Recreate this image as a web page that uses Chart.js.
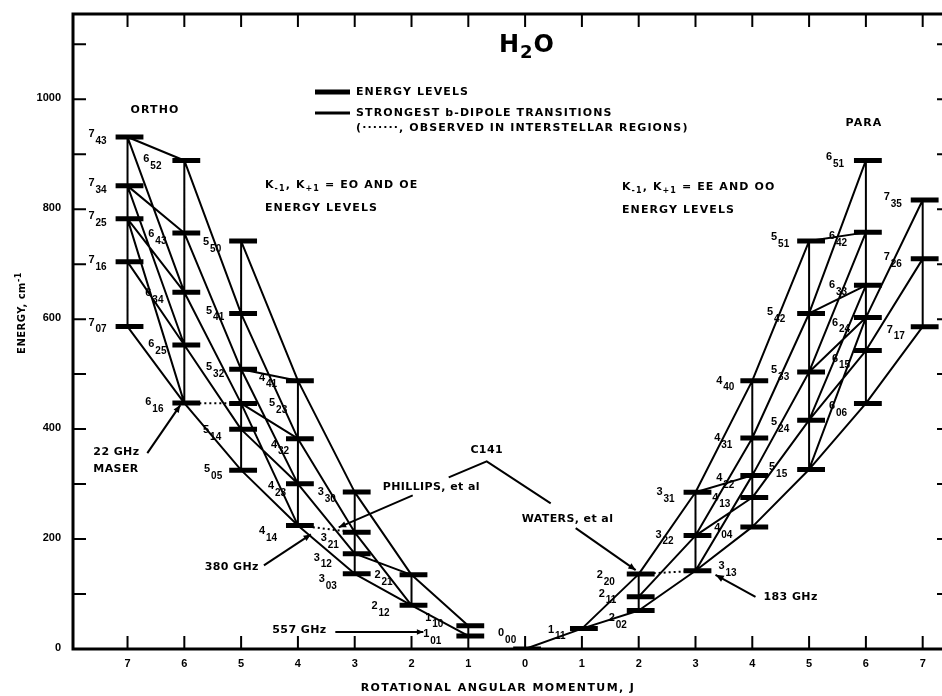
<!DOCTYPE html>
<html>
<head>
<meta charset="utf-8">
<script src="https://cdn.jsdelivr.net/npm/chart.js@4.4.1/dist/chart.umd.min.js"></script>
<style>
  html, body { margin: 0; padding: 0; background: #fff; }
  canvas { display: block; }
</style>
</head>
<body>
<canvas id="chart" width="942" height="696"></canvas>
<script>
// H2O rotational energy levels, cm-1 (name = J_KaKc). Ortho on the left, para on the right.
const orthoLevels = ['7_43','7_34','7_25','7_16','7_07',
                     '6_52','6_43','6_34','6_25','6_16',
                     '5_50','5_41','5_32','5_23','5_14','5_05',
                     '4_41','4_32','4_23','4_14',
                     '3_30','3_21','3_12','3_03',
                     '2_21','2_12',
                     '1_10','1_01'];
const orthoEnergy = [931.2, 842.4, 782.4, 704.2, 586.5,
                     888.6, 756.7, 649.0, 552.9, 447.3,
                     742.1, 610.1, 508.8, 446.7, 399.5, 325.3,
                     488.1, 382.5, 300.4, 224.8,
                     285.4, 212.2, 173.4, 136.8,
                     134.9, 79.5,
                     42.4, 23.8];

const paraLevels = ['0_00',
                    '1_11',
                    '2_20','2_11','2_02',
                    '3_31','3_22','3_13',
                    '4_40','4_31','4_22','4_13','4_04',
                    '5_51','5_42','5_33','5_24','5_15',
                    '6_51','6_42','6_33','6_24','6_15','6_06',
                    '7_35','7_26','7_17'];
const paraEnergy = [0,
                    37.1,
                    136.2, 95.2, 70.1,
                    285.2, 206.3, 142.3,
                    488.1, 383.8, 315.8, 275.5, 222.1,
                    742.1, 610.3, 504.0, 416.2, 326.6,
                    888.6, 757.8, 661.5, 602.8, 542.9, 446.7,
                    816.7, 709.6, 586.2];

// strongest b-dipole transitions
const transitions = [
  ['7_43','7_34'],['7_34','7_25'],['7_25','7_16'],['7_16','7_07'],
  ['6_52','6_43'],['6_43','6_34'],['6_34','6_25'],['6_25','6_16'],
  ['5_50','5_41'],['5_41','5_32'],['5_32','5_23'],['5_23','5_14'],['5_14','5_05'],
  ['4_41','4_32'],['4_32','4_23'],['4_23','4_14'],
  ['3_30','3_21'],['3_21','3_12'],['3_12','3_03'],
  ['2_21','2_12'],['1_10','1_01'],
  ['7_43','6_52'],['7_43','6_34'],['7_34','6_43'],['7_34','6_25'],['7_25','6_34'],['7_25','6_16'],['7_16','6_25'],['7_07','6_16'],
  ['6_52','5_41'],['6_43','5_32'],['6_34','5_23'],['6_25','5_14'],['6_16','5_05'],
  ['5_50','4_41'],['5_41','4_32'],['5_32','4_41'],['5_32','4_23'],['5_23','4_32'],['5_23','4_14'],['5_14','4_23'],['5_05','4_14'],
  ['4_41','3_30'],['4_32','3_21'],['4_23','3_12'],['4_14','3_03'],
  ['3_30','2_21'],['3_21','2_12'],['3_12','2_21'],['3_03','2_12'],
  ['2_21','1_10'],['2_12','1_01'],
  ['2_20','2_11'],['2_11','2_02'],['3_31','3_22'],['3_22','3_13'],
  ['4_40','4_31'],['4_31','4_22'],['4_22','4_13'],['4_13','4_04'],
  ['5_51','5_42'],['5_42','5_33'],['5_33','5_24'],['5_24','5_15'],
  ['6_51','6_42'],['6_42','6_33'],['6_33','6_24'],['6_24','6_15'],['6_15','6_06'],
  ['7_35','7_26'],['7_26','7_17'],
  ['0_00','1_11'],['1_11','2_20'],['1_11','2_02'],
  ['2_20','3_31'],['2_11','3_22'],['2_02','3_13'],
  ['3_31','4_40'],['3_31','4_22'],['3_22','4_31'],['3_22','4_13'],['3_13','4_22'],['3_13','4_04'],
  ['4_40','5_51'],['4_31','5_42'],['4_22','5_33'],['4_13','5_24'],['4_04','5_15'],
  ['5_51','6_42'],['5_42','6_51'],['5_42','6_33'],['5_33','6_42'],['5_33','6_24'],['5_24','6_33'],['5_24','6_15'],['5_15','6_24'],['5_15','6_06'],
  ['6_24','7_35'],['6_15','7_26'],['6_06','7_17']
];
// observed in interstellar regions (dotted)
const observedLines = [['6_16','5_23'], ['4_14','3_21'], ['2_20','3_13']];

const jTickValues = [-7,-6,-5,-4,-3,-2,-1,0,1,2,3,4,5,6,7];
const jTickLabels = ['7','6','5','4','3','2','1','0','1','2','3','4','5','6','7'];
const energyTickLabels = [0, 200, 400, 600, 800, 1000];
const energyTickMarks = [100, 200, 300, 400, 500, 600, 700, 800, 900, 1000, 1100];

// level position in data units: ortho J to the left of 0, para to the right
const levelPos = {};
orthoLevels.forEach((n, i) => { levelPos[n] = {x: -Number(n[0]), y: orthoEnergy[i]}; });
paraLevels.forEach((n, i) => { levelPos[n] = {x: Number(n[0]), y: paraEnergy[i]}; });

// label placement, pixel offsets from the level point [dx, dy]
const labelOffset = {
  '7_43':[-39,0],'7_34':[-39,0],'7_25':[-39,0],'7_16':[-39,1],'7_07':[-39,-1],
  '6_52':[-41,2],'6_43':[-36,4],'6_34':[-39,4],'6_25':[-36,2],'6_16':[-39,2],
  '5_50':[-38,4],'5_41':[-35,0],'5_32':[-35,1],'5_23':[28,3],'5_14':[-38,4],'5_05':[-37,2],
  '4_41':[-39,0],'4_32':[-27,9],'4_23':[-30,5],'4_14':[-39,9],
  '3_30':[-37,3],'3_21':[-34,9],'3_12':[-41,7],'3_03':[-36,8],
  '2_21':[-37,3],'2_12':[-40,4],'1_10':[-43,-5],'1_01':[-45,1],
  '0_00':[-27,-13],'1_11':[-34,4],
  '2_20':[-42,4],'2_11':[-40,0],'2_02':[-30,11],
  '3_31':[-39,3],'3_22':[-40,2],'3_13':[23,-2],
  '4_40':[-36,3],'4_31':[-38,3],'4_22':[-36,6],'4_13':[-40,3],'4_04':[-38,4],
  '5_51':[-38,-1],'5_42':[-42,2],'5_33':[-38,1],'5_24':[-38,5],'5_15':[-40,1],
  '6_51':[-40,0],'6_42':[-37,7],'6_33':[-37,3],'6_24':[-34,8],'6_15':[-34,11],'6_06':[-37,6],
  '7_35':[-39,0],'7_26':[-39,1],'7_17':[-36,6]
};

const BAR_LEFT = 0.21, BAR_RIGHT = 0.28;   // level bar extent around the J column
const FONT = '"Liberation Sans", Arial, sans-serif';
const WORD_FONT = '"DejaVu Sans", sans-serif';

function richWidth(ctx, parts, size, family) {
  let w = 0;
  parts.forEach(([t, k]) => {
    ctx.font = `bold ${k ? Math.round(size * 0.75) : size}px ${family}`;
    w += ctx.measureText(t).width;
  });
  return w;
}

function rich(ctx, parts, x, y, size, align, family) {
  family = family || WORD_FONT;
  let cx = x;
  if (align === 'center') cx = x - richWidth(ctx, parts, size, family) / 2;
  if (align === 'right') cx = x - richWidth(ctx, parts, size, family);
  ctx.textAlign = 'left';
  ctx.textBaseline = 'middle';
  parts.forEach(([t, k]) => {
    ctx.font = `bold ${k ? Math.round(size * 0.75) : size}px ${family}`;
    const dy = k === 'sub' ? size * 0.32 : k === 'sup' ? -size * 0.35 : 0;
    ctx.fillText(t, cx, y + dy);
    cx += ctx.measureText(t).width;
  });
}

function levelBars() {
  const pts = [];
  Object.keys(levelPos).forEach(n => {
    const p = levelPos[n];
    pts.push({x: p.x - BAR_LEFT, y: p.y}, {x: p.x + BAR_RIGHT, y: p.y}, {x: p.x, y: null});
  });
  return pts;
}

function segments(pairs) {
  const pts = [];
  pairs.forEach(([a, b]) => {
    pts.push({x: levelPos[a].x, y: levelPos[a].y}, {x: levelPos[b].x, y: levelPos[b].y}, {x: levelPos[b].x, y: null});
  });
  return pts;
}

function arrow(ctx, x1, y1, x2, y2, head) {
  ctx.beginPath();
  ctx.moveTo(x1, y1);
  ctx.lineTo(x2, y2);
  ctx.stroke();
  if (!head) return;
  const ang = Math.atan2(y2 - y1, x2 - x1);
  ctx.beginPath();
  ctx.moveTo(x2, y2);
  ctx.lineTo(x2 - head * Math.cos(ang - 0.4), y2 - head * Math.sin(ang - 0.4));
  ctx.lineTo(x2 - head * Math.cos(ang + 0.4), y2 - head * Math.sin(ang + 0.4));
  ctx.closePath();
  ctx.fill();
}

const diagramDecor = {
  id: 'diagramDecor',
  afterDraw(chart) {
    const {ctx, chartArea: a, scales: {x, y}} = chart;
    const px = n => [x.getPixelForValue(levelPos[n].x), y.getPixelForValue(levelPos[n].y)];
    ctx.save();
    ctx.strokeStyle = '#000';
    ctx.fillStyle = '#000';

    // frame (no right edge, it falls off the page)
    ctx.lineWidth = 3;
    ctx.beginPath();
    ctx.moveTo(a.right, a.top); ctx.lineTo(a.left, a.top);
    ctx.lineTo(a.left, a.bottom); ctx.lineTo(a.right, a.bottom);
    ctx.stroke();

    // ticks pointing inward
    ctx.lineWidth = 2;
    jTickValues.forEach(v => {
      const p = x.getPixelForValue(v);
      ctx.beginPath();
      ctx.moveTo(p, a.bottom); ctx.lineTo(p, a.bottom - 13);
      ctx.moveTo(p, a.top); ctx.lineTo(p, a.top + 13);
      ctx.stroke();
    });
    energyTickMarks.forEach(v => {
      const p = y.getPixelForValue(v);
      ctx.beginPath();
      ctx.moveTo(a.left, p); ctx.lineTo(a.left + 13, p);
      ctx.moveTo(a.right - 5, p); ctx.lineTo(a.right, p);
      ctx.stroke();
    });

    // tick labels
    ctx.font = `bold 11px ${FONT}`;
    ctx.textAlign = 'center';
    ctx.textBaseline = 'middle';
    jTickValues.forEach((v, i) => ctx.fillText(jTickLabels[i], x.getPixelForValue(v), a.bottom + 15));
    ctx.textAlign = 'right';
    energyTickLabels.forEach(v => ctx.fillText(String(v), a.left - 12, y.getPixelForValue(v) - 1));

    // axis titles
    ctx.letterSpacing = '1.4px';
    rich(ctx, [['ROTATIONAL ANGULAR MOMENTUM, J', '']], 498, 688, 11, 'center');
    ctx.save();
    ctx.translate(22, 313);
    ctx.rotate(-Math.PI / 2);
    ctx.letterSpacing = '0.5px';
    rich(ctx, [['ENERGY, cm', ''], ['-1', 'sup']], 0, 0, 10, 'center');
    ctx.restore();

    // title
    ctx.letterSpacing = '1px';
    rich(ctx, [['H', ''], ['2', 'sub'], ['O', '']], 527, 46, 24, 'center');

    // legend
    ctx.letterSpacing = '1.1px';
    ctx.lineWidth = 5;
    ctx.beginPath(); ctx.moveTo(315, 92); ctx.lineTo(350, 92); ctx.stroke();
    ctx.lineWidth = 3;
    ctx.beginPath(); ctx.moveTo(315, 113); ctx.lineTo(350, 113); ctx.stroke();
    rich(ctx, [['ENERGY LEVELS', '']], 356, 92, 11);
    rich(ctx, [['STRONGEST b-DIPOLE TRANSITIONS', '']], 356, 113, 11);
    rich(ctx, [['(·······, OBSERVED IN INTERSTELLAR REGIONS)', '']], 356, 128, 11);

    rich(ctx, [['ORTHO', '']], 155, 110, 11, 'center');
    rich(ctx, [['PARA', '']], 864, 123, 11, 'center');
    rich(ctx, [['K', ''], ['-1', 'sub'], [', K', ''], ['+1', 'sub'], [' = EO AND OE', '']], 265, 185, 11);
    rich(ctx, [['ENERGY LEVELS', '']], 265, 208, 11);
    rich(ctx, [['K', ''], ['-1', 'sub'], [', K', ''], ['+1', 'sub'], [' = EE AND OO', '']], 622, 187, 11);
    rich(ctx, [['ENERGY LEVELS', '']], 622, 210, 11);
    ctx.letterSpacing = '0px';

    // level labels: J with Ka Kc subscript
    Object.keys(labelOffset).forEach(n => {
      const [lx, ly] = px(n);
      const [dx, dy] = labelOffset[n];
      ctx.textAlign = 'left';
      ctx.textBaseline = 'middle';
      ctx.font = `bold 11px ${FONT}`;
      ctx.fillText(n[0], lx + dx, ly + dy - 3);
      ctx.font = `bold 10px ${FONT}`;
      ctx.fillText(n.slice(2), lx + dx + 7, ly + dy + 4);
    });

    // annotations
    ctx.lineWidth = 2;
    ctx.letterSpacing = '0.4px';
    let [tx, ty] = px('6_16');
    arrow(ctx, tx - 37, ty + 50, tx - 4, ty + 2, 8);
    rich(ctx, [['22 GHz', '']], tx - 91, ty + 49, 11);
    rich(ctx, [['MASER', '']], tx - 91, ty + 66, 11);

    [tx, ty] = px('4_14');
    arrow(ctx, tx - 34, ty + 40, tx + 13, ty + 9, 8);
    rich(ctx, [['380 GHz', '']], tx - 39, ty + 42, 11, 'right');

    [tx, ty] = px('3_21');
    arrow(ctx, tx + 58, ty - 37, tx - 16, ty - 5, 8);
    rich(ctx, [['PHILLIPS, et al', '']], tx + 28, ty - 45, 11);
    ctx.beginPath();
    ctx.moveTo(tx + 94, ty - 55); ctx.lineTo(tx + 132, ty - 71); ctx.lineTo(tx + 196, ty - 29);
    ctx.stroke();
    rich(ctx, [['C141', '']], tx + 132, ty - 82, 11, 'center');

    [tx, ty] = px('2_20');
    arrow(ctx, tx - 63, ty - 46, tx - 3, ty - 4, 8);
    rich(ctx, [['WATERS, et al', '']], tx - 117, ty - 55, 11);

    [tx, ty] = px('3_13');
    arrow(ctx, tx + 60, ty + 26, tx + 20, ty + 4, 9);
    rich(ctx, [['183 GHz', '']], tx + 68, ty + 26, 11);

    [tx, ty] = px('1_01');
    arrow(ctx, tx - 133, ty - 4, tx - 45, ty - 4, 7);
    rich(ctx, [['557 GHz', '']], tx - 196, ty - 6, 11);
    ctx.letterSpacing = '0px';

    ctx.restore();
  }
};

new Chart(document.getElementById('chart'), {
  type: 'scatter',
  data: {
    datasets: [
      {
        label: 'Energy levels',
        data: levelBars(),
        showLine: true,
        borderColor: '#000',
        borderWidth: 5,
        pointRadius: 0,
        spanGaps: false
      },
      {
        label: 'Strongest b-dipole transitions',
        data: segments(transitions),
        showLine: true,
        borderColor: '#000',
        borderWidth: 2,
        pointRadius: 0,
        spanGaps: false
      },
      {
        label: 'Observed in interstellar regions',
        data: segments(observedLines),
        showLine: true,
        borderColor: '#000',
        borderWidth: 2,
        borderDash: [2, 3],
        pointRadius: 0,
        spanGaps: false
      }
    ]
  },
  options: {
    responsive: false,
    animation: false,
    devicePixelRatio: 1,
    layout: { padding: { left: 73, top: 14, right: 0, bottom: 47 } },
    plugins: { legend: { display: false }, tooltip: { enabled: false } },
    scales: {
      x: { type: 'linear', min: -7.96, max: 7.34, display: false },
      y: { type: 'linear', min: 0, max: 1155, display: false }
    }
  },
  plugins: [diagramDecor]
});
</script>
</body>
</html>
